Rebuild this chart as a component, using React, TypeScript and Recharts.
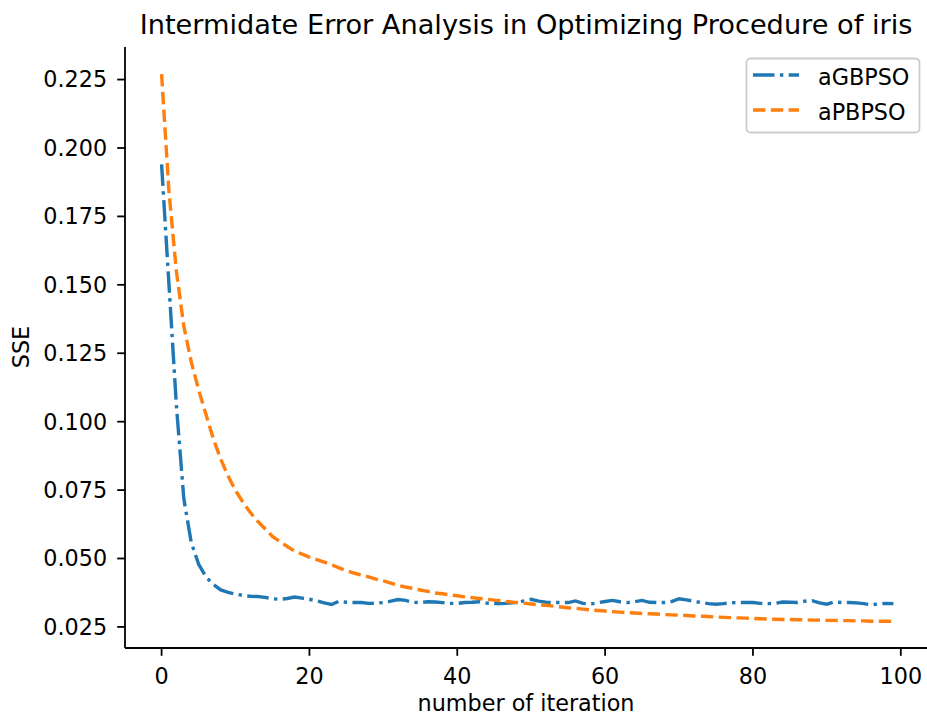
import React from "react";
import { LineChart, Line, XAxis, YAxis } from "recharts";

const xTicks = [0, 20, 40, 60, 80, 100];
const yTicks = [0.025, 0.05, 0.075, 0.1, 0.125, 0.15, 0.175, 0.2, 0.225];

const aGBPSO = [
  0.194, 0.15, 0.106, 0.072, 0.056, 0.048, 0.0433, 0.0405, 0.0385, 0.0376,
  0.037, 0.0365, 0.0362, 0.0361, 0.0358, 0.0353, 0.0351, 0.0354, 0.0359, 0.0355,
  0.0351, 0.0345, 0.0338, 0.0332, 0.0344, 0.034, 0.0339, 0.0339, 0.0336, 0.0337,
  0.0339, 0.0344, 0.035, 0.0347, 0.034, 0.0339, 0.0342, 0.0341, 0.0339, 0.0336,
  0.0336, 0.0339, 0.034, 0.0342, 0.0337, 0.0335, 0.0335, 0.0337, 0.0339, 0.0345,
  0.0351, 0.0344, 0.034, 0.0339, 0.0339, 0.0339, 0.0345, 0.0336, 0.0334, 0.0338,
  0.0343, 0.0347, 0.0342, 0.0339, 0.0342, 0.0347, 0.034, 0.0339, 0.0339, 0.0343,
  0.0353, 0.0349, 0.0344, 0.0339, 0.0335, 0.0333, 0.0335, 0.0338, 0.0339, 0.0339,
  0.0339, 0.0336, 0.0335, 0.0336, 0.0341, 0.034, 0.0339, 0.0344, 0.0346, 0.0338,
  0.0333, 0.0341, 0.0339, 0.0339, 0.0338, 0.0335, 0.0331, 0.0334, 0.0336, 0.0335,
];

const aPBPSO = [
  0.227, 0.184, 0.155, 0.135, 0.122, 0.1117, 0.1027, 0.0937, 0.0863, 0.0801,
  0.0748, 0.0706, 0.0668, 0.0636, 0.0609, 0.0581, 0.0562, 0.0544, 0.0527, 0.0516,
  0.0505, 0.0496, 0.0487, 0.0477, 0.0466, 0.0456, 0.0447, 0.044, 0.0433, 0.0425,
  0.0418, 0.041, 0.0402, 0.0396, 0.0391, 0.0385, 0.038, 0.0374, 0.0371, 0.0367,
  0.0364, 0.036, 0.0357, 0.0354, 0.0351, 0.0348, 0.0345, 0.0342, 0.0339, 0.0337,
  0.0334, 0.0331, 0.0329, 0.0326, 0.0323, 0.032, 0.0318, 0.0315, 0.0312, 0.031,
  0.0308, 0.0306, 0.0304, 0.0302, 0.0301, 0.0299, 0.0298, 0.0297, 0.0295, 0.0294,
  0.0293, 0.0292, 0.029, 0.0289, 0.0288, 0.0286, 0.0285, 0.0284, 0.0283, 0.0282,
  0.0281, 0.028, 0.0279, 0.0278, 0.0277, 0.0277, 0.0276, 0.0276, 0.0275, 0.0275,
  0.0274, 0.0274, 0.0273, 0.0273, 0.0272, 0.0272, 0.0271, 0.0271, 0.0271, 0.027,
];

const data = aGBPSO.map((v, i) => ({ iteration: i, aGBPSO: v, aPBPSO: aPBPSO[i] }));

const FONT = "DejaVu Sans";
const BLUE = "#1f77b4";
const ORANGE = "#ff7f0e";
const LW = 3.4;
const DASH = "12.4 5.4";
const DASHDOT = "21.5 5.4 3.4 5.4";
const FS = 22.3;
const tickStyle = { fontSize: FS, fill: "#000", fontFamily: FONT };
const spine = { stroke: "#000", strokeWidth: 1.8 };

export default function App() {
  return (
    <div
      style={{
        position: "absolute",
        left: 0,
        top: 0,
        width: 927,
        height: 717,
        overflow: "hidden",
        background: "#fff",
      }}
    >
      <LineChart
        width={932}
        height={717}
        data={data}
        margin={{ top: 47, right: 2, bottom: 0, left: 0 }}
      >
        <XAxis
          xAxisId="top"
          orientation="top"
          dataKey="iteration"
          type="number"
          domain={[-4.95, 103.95]}
          height={0}
          tick={false}
          tickLine={false}
          axisLine={spine}
        />
        <XAxis
          dataKey="iteration"
          type="number"
          domain={[-4.95, 103.95]}
          ticks={xTicks}
          interval={0}
          height={69}
          tickSize={7.8}
          tickMargin={12}
          tick={tickStyle}
          tickLine={spine}
          axisLine={spine}
        />
        <YAxis
          type="number"
          domain={[0.0173, 0.2369]}
          ticks={yTicks}
          interval={0}
          width={125}
          tickSize={7.8}
          tickMargin={10}
          tickFormatter={(v: number) => v.toFixed(3)}
          tick={tickStyle}
          tickLine={spine}
          axisLine={spine}
          allowDataOverflow
        />
        <Line
          type="linear"
          dataKey="aGBPSO"
          stroke={BLUE}
          strokeWidth={LW}
          strokeDasharray={DASHDOT}
          dot={false}
          activeDot={false}
          isAnimationActive={false}
        />
        <Line
          type="linear"
          dataKey="aPBPSO"
          stroke={ORANGE}
          strokeWidth={LW}
          strokeDasharray={DASH}
          dot={false}
          activeDot={false}
          isAnimationActive={false}
        />
      </LineChart>
      <svg
        width={927}
        height={717}
        style={{ position: "absolute", left: 0, top: 0, pointerEvents: "none" }}
      >
        <text x={526} y={34} textAnchor="middle" fontFamily={FONT} fontSize={27.2} fill="#000">
          Intermidate Error Analysis in Optimizing Procedure of iris
        </text>
        <text x={526} y={711} textAnchor="middle" fontFamily={FONT} fontSize={FS} fill="#000">
          number of iteration
        </text>
        <text
          x={29}
          y={347}
          textAnchor="middle"
          fontFamily={FONT}
          fontSize={FS}
          fill="#000"
          transform="rotate(-90 29 347)"
        >
          SSE
        </text>
        <rect
          x={746.5}
          y={58.5}
          width={173}
          height={74}
          rx={4}
          fill="#fff"
          fillOpacity={0.8}
          stroke="#cccccc"
          strokeWidth={1.8}
        />
        <line x1={753} y1={75} x2={799} y2={75} stroke={BLUE} strokeWidth={LW} strokeDasharray={DASHDOT} />
        <line x1={753} y1={110} x2={799} y2={110} stroke={ORANGE} strokeWidth={LW} strokeDasharray={DASH} />
        <text x={818} y={84.5} fontFamily={FONT} fontSize={FS} fill="#000">
          aGBPSO
        </text>
        <text x={818} y={119.5} fontFamily={FONT} fontSize={FS} fill="#000">
          aPBPSO
        </text>
      </svg>
    </div>
  );
}
